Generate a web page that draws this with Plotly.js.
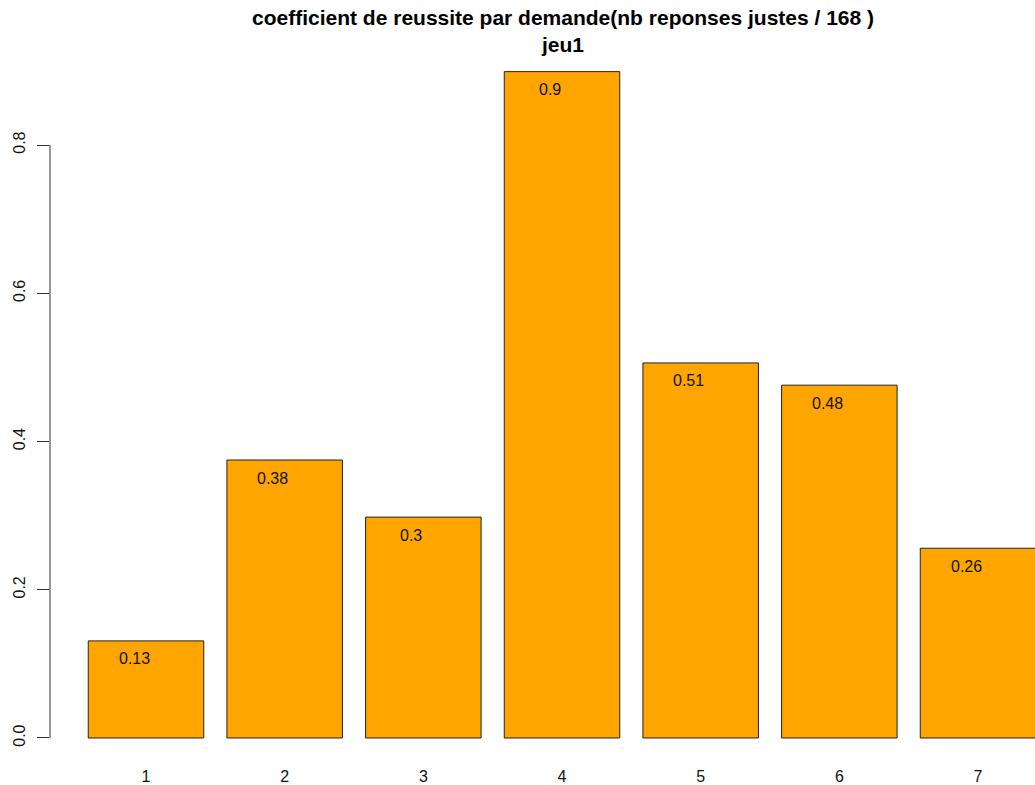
<!DOCTYPE html>
<html>
<head>
<meta charset="utf-8">
<script src="https://cdn.plot.ly/plotly-3.0.1.min.js"></script>
<style>html,body{margin:0;padding:0;background:#fff;}#chart{width:1035px;height:785px;}</style>
</head>
<body>
<div id="chart"></div>
<script>
// Data
const categories = ["1", "2", "3", "4", "5", "6", "7"];
const values = [0.131, 0.375, 0.298, 0.899, 0.506, 0.476, 0.256];
const valueLabels = ["0.13", "0.38", "0.3", "0.9", "0.51", "0.48", "0.26"];
const yTickVals = [0, 0.2, 0.4, 0.6, 0.8];
const yTickText = ["0.0", "0.2", "0.4", "0.6", "0.8"];
const titleText = "coefficient de reussite par demande(nb reponses justes / 168 )<br>jeu1";

const FONT = "Liberation Sans, Arial, sans-serif";
const xNum = categories.map(c => Number(c));

const trace = {
  type: "bar",
  x: xNum,
  y: values,
  width: 0.833,
  marker: { color: "#FFA500", line: { color: "#222222", width: 1 } },
  hoverinfo: "none"
};

const annotations = xNum.map((x, i) => ({
  x: x, y: values[i], xref: "x", yref: "y",
  text: valueLabels[i], showarrow: false,
  xshift: -12, yshift: -18,
  font: { family: FONT, size: 16, color: "#111" }
}));

const layout = {
  width: 1035, height: 785,
  paper_bgcolor: "#fff", plot_bgcolor: "#fff",
  margin: { l: 50, r: 0, t: 60, b: 25, pad: 0 },
  showlegend: false,
  title: {
    text: "<b>" + titleText + "</b>",
    font: { family: FONT, size: 21, color: "#000" },
    xref: "container", x: 0.544, xanchor: "center",
    yref: "container", y: 0.968, yanchor: "top"
  },
  xaxis: {
    range: [0.3077, 7.411],
    tickvals: xNum, ticktext: categories,
    showgrid: false, zeroline: false, showline: false,
    ticks: "", ticklabelstandoff: 5,
    tickfont: { family: FONT, size: 16, color: "#111" }
  },
  yaxis: {
    range: [-0.0297, 0.9147],
    tickvals: yTickVals, ticktext: yTickText,
    tickangle: -90,
    showgrid: false, zeroline: false, showline: false,
    ticks: "outside", ticklen: 12, tickwidth: 1, tickcolor: "#333",
    ticklabelstandoff: 6,
    tickfont: { family: FONT, size: 16, color: "#111" }
  },
  shapes: [{
    type: "line", xref: "paper", yref: "y",
    x0: 0, x1: 0, y0: yTickVals[0], y1: yTickVals[yTickVals.length - 1],
    line: { color: "#333", width: 1 }
  }],
  annotations: annotations
};

Plotly.newPlot("chart", [trace], layout, { displayModeBar: false, staticPlot: true });
</script>
</body>
</html>
